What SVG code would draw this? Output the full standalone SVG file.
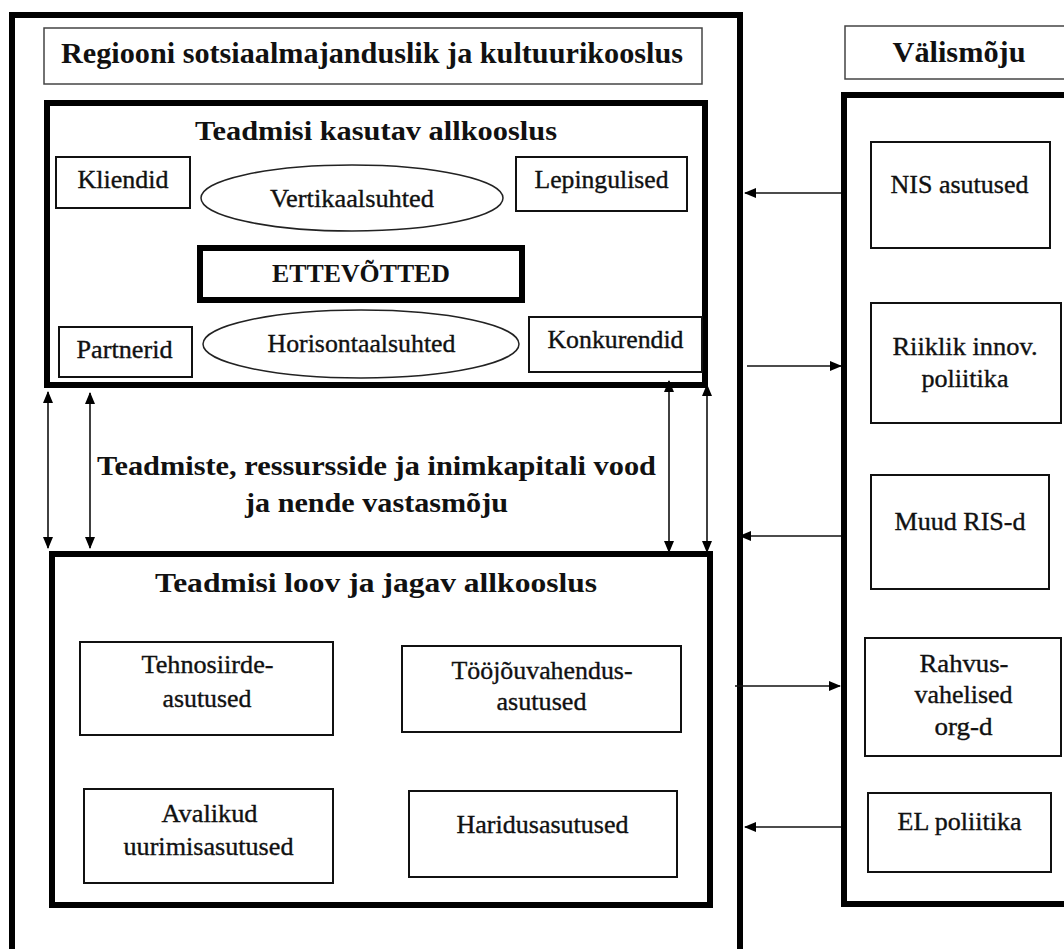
<svg xmlns="http://www.w3.org/2000/svg" width="1064" height="949" viewBox="0 0 1064 949">
<defs>
<style>
.t{font-family:"Liberation Serif","Times New Roman",serif;fill:#111;text-anchor:middle}
.b{font-weight:bold}
.s{font-size:25px;stroke:#111;stroke-width:0.35}
.box{fill:#fff;stroke:#111;stroke-width:2}
.lbox{fill:#fff;stroke:#444;stroke-width:1.5}
.thick{fill:none;stroke:#000;stroke-width:6}
.ell{fill:#fff;stroke:#222;stroke-width:1.5}
.c{fill:none;stroke:#111;stroke-width:1.6}
</style>
<marker id="ah" viewBox="0 0 12 10" refX="11" refY="5" markerWidth="12" markerHeight="10" markerUnits="userSpaceOnUse" orient="auto-start-reverse">
<path d="M0,0 L12,5 L0,10 z" fill="#000"/>
</marker>
</defs>
<rect width="1064" height="949" fill="#fff"/>

<g id="outer-region">
<path class="thick" d="M12,960 L12,15 L740,15 L740,960"/>
</g>
<g id="region-title">
<rect class="lbox" x="44" y="28" width="658" height="56"/>
<text class="t b" x="372" y="63" font-size="30" textLength="622" lengthAdjust="spacingAndGlyphs">Regiooni sotsiaalmajanduslik ja kultuurikooslus</text>
</g>

<g id="using-community">
<rect class="thick" x="47" y="103" width="658" height="282" fill="#fff"/>
<text class="t b" x="376" y="140" font-size="28" textLength="362" lengthAdjust="spacingAndGlyphs">Teadmisi kasutav allkooslus</text>
</g>
<g id="kliendid">
<rect class="box" x="56" y="157" width="134" height="51"/>
<text class="t s" x="123" y="188" textLength="91" lengthAdjust="spacingAndGlyphs">Kliendid</text>
</g>
<g id="vertikaalsuhted">
<ellipse class="ell" cx="352" cy="198" rx="151" ry="33"/>
<text class="t s" x="352" y="207" textLength="164" lengthAdjust="spacingAndGlyphs">Vertikaalsuhted</text>
</g>
<g id="lepingulised">
<rect class="box" x="516" y="157" width="171" height="54"/>
<text class="t s" x="601.5" y="188" textLength="134" lengthAdjust="spacingAndGlyphs">Lepingulised</text>
</g>
<g id="ettevotted">
<rect x="200" y="248" width="322" height="52" fill="#fff" stroke="#000" stroke-width="6"/>
<text class="t b" x="361" y="282" font-size="25" textLength="178" lengthAdjust="spacingAndGlyphs">ETTEVÕTTED</text>
</g>
<g id="partnerid">
<rect class="box" x="59" y="327" width="133" height="50"/>
<text class="t s" x="124.5" y="358" textLength="96" lengthAdjust="spacingAndGlyphs">Partnerid</text>
</g>
<g id="horisontaalsuhted">
<ellipse class="ell" cx="361" cy="344" rx="158" ry="34"/>
<text class="t s" x="361.5" y="352" textLength="188" lengthAdjust="spacingAndGlyphs">Horisontaalsuhted</text>
</g>
<g id="konkurendid">
<rect class="box" x="529" y="317" width="173" height="55"/>
<text class="t s" x="615.5" y="348" textLength="136" lengthAdjust="spacingAndGlyphs">Konkurendid</text>
</g>

<g id="flows-label">
<text class="t b" x="376.5" y="475" font-size="28" textLength="559" lengthAdjust="spacingAndGlyphs">Teadmiste, ressursside ja inimkapitali vood</text>
<text class="t b" x="376.5" y="512" font-size="28" textLength="263" lengthAdjust="spacingAndGlyphs">ja nende vastasmõju</text>
</g>

<g id="creating-community">
<rect class="thick" x="52" y="554" width="658" height="351" fill="#fff"/>
<text class="t b" x="376" y="592" font-size="28" textLength="442" lengthAdjust="spacingAndGlyphs">Teadmisi loov ja jagav allkooslus</text>
</g>
<g id="tehnosiirde">
<rect class="box" x="80" y="642" width="253" height="93"/>
<text class="t s" x="207.5" y="673" textLength="132" lengthAdjust="spacingAndGlyphs">Tehnosiirde-</text>
<text class="t s" x="207" y="707" textLength="89" lengthAdjust="spacingAndGlyphs">asutused</text>
</g>
<g id="toojouvahendus">
<rect class="box" x="402" y="646" width="279" height="86"/>
<text class="t s" x="542" y="679" textLength="181" lengthAdjust="spacingAndGlyphs">Tööjõuvahendus-</text>
<text class="t s" x="541.5" y="710" textLength="90" lengthAdjust="spacingAndGlyphs">asutused</text>
</g>
<g id="avalikud">
<rect class="box" x="84" y="789" width="249" height="94"/>
<text class="t s" x="209.5" y="822" textLength="96" lengthAdjust="spacingAndGlyphs">Avalikud</text>
<text class="t s" x="208.5" y="855" textLength="170" lengthAdjust="spacingAndGlyphs">uurimisasutused</text>
</g>
<g id="haridusasutused">
<rect class="box" x="409" y="791" width="268" height="86"/>
<text class="t s" x="542.5" y="833" textLength="172" lengthAdjust="spacingAndGlyphs">Haridusasutused</text>
</g>

<g id="valismoju-title">
<rect class="lbox" x="845" y="26" width="230" height="53"/>
<text class="t b" x="959" y="62" font-size="30" textLength="133" lengthAdjust="spacingAndGlyphs">Välismõju</text>
</g>
<g id="valismoju">
<rect class="thick" x="844" y="95" width="230" height="809" fill="#fff"/>
</g>
<g id="nis">
<rect class="box" x="871" y="142" width="179" height="106"/>
<text class="t s" x="959.5" y="193" textLength="138" lengthAdjust="spacingAndGlyphs">NIS asutused</text>
</g>
<g id="riiklik">
<rect class="box" x="871" y="303" width="190" height="120"/>
<text class="t s" x="965" y="355" textLength="145" lengthAdjust="spacingAndGlyphs">Riiklik innov.</text>
<text class="t s" x="965" y="387" textLength="87" lengthAdjust="spacingAndGlyphs">poliitika</text>
</g>
<g id="muud-ris">
<rect class="box" x="871" y="475" width="178" height="114"/>
<text class="t s" x="960" y="530" textLength="131" lengthAdjust="spacingAndGlyphs">Muud RIS-d</text>
</g>
<g id="rahvusvahelised">
<rect class="box" x="865" y="638" width="196" height="118"/>
<text class="t s" x="964" y="672" textLength="89" lengthAdjust="spacingAndGlyphs">Rahvus-</text>
<text class="t s" x="963.5" y="703" textLength="98" lengthAdjust="spacingAndGlyphs">vahelised</text>
<text class="t s" x="963.5" y="735" textLength="58" lengthAdjust="spacingAndGlyphs">org-d</text>
</g>
<g id="el-poliitika">
<rect class="box" x="868" y="793" width="183" height="79"/>
<text class="t s" x="959.5" y="830" textLength="124" lengthAdjust="spacingAndGlyphs">EL poliitika</text>
</g>

<g id="connectors">
<line class="c" x1="48" y1="392" x2="48" y2="548" marker-start="url(#ah)" marker-end="url(#ah)"/>
<line class="c" x1="90" y1="393" x2="90" y2="548" marker-start="url(#ah)" marker-end="url(#ah)"/>
<line class="c" x1="669" y1="381" x2="669" y2="552" marker-start="url(#ah)" marker-end="url(#ah)"/>
<line class="c" x1="707" y1="385" x2="707" y2="552" marker-start="url(#ah)" marker-end="url(#ah)"/>
<line class="c" x1="841" y1="193" x2="745" y2="193" marker-end="url(#ah)"/>
<line class="c" x1="747" y1="366" x2="841" y2="366" marker-end="url(#ah)"/>
<line class="c" x1="841" y1="536" x2="740" y2="536" marker-end="url(#ah)"/>
<line class="c" x1="735" y1="686" x2="840" y2="686" marker-end="url(#ah)"/>
<line class="c" x1="841" y1="827" x2="745" y2="827" marker-end="url(#ah)"/>
</g>
</svg>
